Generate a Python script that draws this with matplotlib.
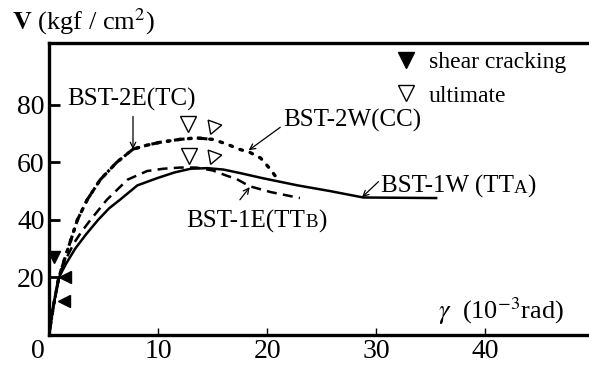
import matplotlib
matplotlib.use("Agg")
import matplotlib.pyplot as plt
import matplotlib.transforms as mtransforms
from matplotlib.lines import Line2D

plt.rcParams["font.family"] = ["Liberation Serif", "DejaVu Serif"]
plt.rcParams["mathtext.fontset"] = "stix"

# --- data (gamma in 1e-3 rad, V in kgf/cm2) ---
tta_x = [0, 0.4, 0.9, 1.6, 2.4, 3.4, 4.5, 5.5, 6.5, 8.1, 9.9, 11.5, 13.0, 14.5,
         16.0, 17.5, 19.6, 22.8, 25.8, 28.8, 35.6]
tta_y = [0, 10, 20, 25, 30, 35, 40, 44, 47, 52, 54.5, 56.5, 57.8, 58.0,
         57.5, 56.3, 54.5, 52.0, 50.0, 47.8, 47.6]

ttb_x = [0, 0.4, 0.9, 1.5, 2.3, 3.0, 3.8, 5.3, 7.2, 9.0, 10.5, 12.0, 13.5,
         15.0, 16.2, 17.2, 18.4, 20.3, 23.0]
ttb_y = [0, 10, 20, 26, 32, 36, 40, 47, 54, 57, 57.8, 58.2, 58.2,
         57.2, 55.5, 54.2, 51.7, 49.7, 47.6]

tc_x = [0, 0.4, 0.9, 1.4, 2.0, 2.6, 3.5, 4.7, 6.2, 7.7, 9.0, 10.2, 12.0, 13.5, 15.0]
tc_y = [0, 10, 20, 26, 33, 40, 47, 54, 60, 64.6, 66, 67, 68, 68.5, 68]

cc_x = [0, 0.4, 0.9, 1.4, 2.0, 2.6, 3.5, 4.7, 6.2, 7.7, 9.0, 10.2, 12.0, 13.5,
        15.0, 16.2, 17.5, 18.4, 19.4, 20.2, 21.0]
cc_y = [0, 10, 20, 26, 33, 40, 47, 54, 60, 64.6, 66, 67, 68, 68.5,
        68, 66.5, 64.5, 63.5, 61.5, 58, 54]

ult_x = [12.7, 12.8]
ult_y = [73.3, 62.2]
ult_rx = [15.0, 15.0]
ult_ry = [72.6, 62.2]

crack_top_x = [0.45]
crack_top_y = [27]
crack_x = [1.5, 1.4]
crack_y = [20, 11.8]

fig = plt.figure(figsize=(5.89, 3.70), dpi=100)
ax = fig.add_axes([49 / 589, 35 / 370, 1 - 49 / 589, 292 / 370])

lw = 1.8
ax.plot(tta_x, tta_y, color="black", lw=lw, solid_capstyle="butt")
ax.plot(ttb_x, ttb_y, color="black", lw=lw, dashes=(4, 2.5))
ax.plot(cc_x, cc_y, color="black", lw=2.4, dashes=(0.8, 2.4), dash_capstyle="round")
ax.plot(tc_x, tc_y, color="black", lw=2.2, dashes=(3.5, 1.5, 1, 1.5))

ax.plot(ult_x, ult_y, ls="none", marker="v", ms=12, mfc="white", mec="black", mew=1.0)
ax.plot(ult_rx, ult_ry, ls="none", marker=(3, 0, 160), ms=12, mfc="white",
        mec="black", mew=1.0)
ax.plot(crack_top_x, crack_top_y, ls="none", marker="v", ms=9, color="black",
        clip_on=False)
ax.plot(crack_x, crack_y, ls="none", marker="<", ms=9, color="black", clip_on=False)

ax.set_xlim(0, 49.5)
ax.set_ylim(0, 101.5)
ax.set_xticks([0, 10, 20, 30, 40])
ax.set_yticks([20, 40, 60, 80])
ax.tick_params(axis="x", direction="in", length=5, width=1.0, labelsize=20, pad=3)
ax.tick_params(axis="y", direction="in", length=8, width=2.0, labelsize=20, pad=3)
for lab in ax.get_xticklabels()[:1]:
    lab.set_transform(lab.get_transform() +
                      mtransforms.ScaledTranslation(-11 / 100, 0, fig.dpi_scale_trans))

for side in ("left", "bottom", "top"):
    ax.spines[side].set_linewidth(2.4)
ax.spines["right"].set_visible(False)

renderer = fig.canvas.get_renderer()


def split_label(x, y, head, small, tail, size):
    # small-caps last letter: put the pieces side by side on one baseline
    t1 = ax.text(x, y, head, fontsize=size, va="baseline")
    w1 = t1.get_window_extent(renderer).width / fig.dpi
    t2 = ax.text(x, y, small, fontsize=size * 0.75, va="baseline",
                 transform=ax.transData + mtransforms.ScaledTranslation(
                     w1, 0, fig.dpi_scale_trans))
    w2 = t2.get_window_extent(renderer).width / fig.dpi
    ax.text(x, y, tail, fontsize=size, va="baseline",
            transform=ax.transData + mtransforms.ScaledTranslation(
                w1 + w2, 0, fig.dpi_scale_trans))


ax.text(1.7, 82, "BST-2E(TC)", fontsize=18, va="center")
ax.text(21.5, 74.7, "BST-2W(CC)", fontsize=18, va="center")
split_label(30.4, 49.5, "BST-1W (TT", "A", ")", 18)
split_label(12.6, 37.5, "BST-1E(TT", "B", ")", 18)

arrow = dict(arrowstyle="->", color="black", lw=0.9, shrinkA=0, shrinkB=0)
ax.annotate("", xy=(7.7, 64.6), xytext=(7.7, 76), arrowprops=arrow)
ax.annotate("", xy=(18.3, 64.2), xytext=(21.2, 72.2), arrowprops=arrow)
ax.annotate("", xy=(28.7, 47.9), xytext=(30.2, 53.3), arrowprops=arrow)
ax.annotate("", xy=(18.4, 51.4), xytext=(17.5, 47.0), arrowprops=arrow)

ax.text(35.7, 8.3, r"$\gamma$  (10$^{-3}$rad)", fontsize=19, va="center")
fig.text(12 / 589, 1 - 22 / 370, r"$\mathbf{V}$ (kgf / cm$^2$)", fontsize=19, va="center")

handles = [
    Line2D([], [], ls="none", marker="v", ms=11, color="black"),
    Line2D([], [], ls="none", marker="v", ms=11, mfc="white", mec="black", mew=1.0),
]
ax.legend(handles, ["shear cracking", "ultimate"], loc="upper left",
          bbox_to_anchor=(0.618, 1.01), frameon=False, fontsize=17,
          handlelength=1.0, handletextpad=0.45, labelspacing=0.5, borderpad=0)

fig.savefig("out.png", dpi=100)
